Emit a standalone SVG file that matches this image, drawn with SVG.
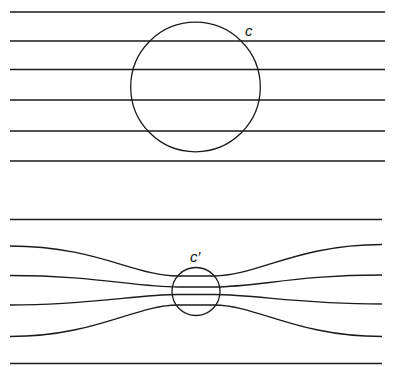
<svg xmlns="http://www.w3.org/2000/svg" width="394" height="367" viewBox="0 0 394 367">
<style>
.ln{fill:none;stroke:#1a1a1a;stroke-width:1.3}
.lbl{font-family:"Liberation Sans",Arial,sans-serif;font-style:italic;font-size:15px;fill:#111}
</style>
<rect width="394" height="367" fill="#fff"/>
<g id="connectors">
<path class="ln" d="M10,12 H385 M10,41 H385 M10,69.5 H385 M10,100 H385 M10,131 H385 M10,161 H385"/>
<path class="ln" d="M10,219.5 H382 M10,363.5 H382"/>
<path class="ln" d="M10,246 C95,246 135,276 178,276 L214,276 C257,276 297,244.5 382,244.5"/>
<path class="ln" d="M10,275.5 C95,275.5 135,287 178,287 L214,287 C257,287 297,275 382,275"/>
<path class="ln" d="M10,305 C95,305 135,294.5 178,294.5 L214,294.5 C257,294.5 297,304 382,304"/>
<path class="ln" d="M10,336.5 C95,336.5 135,305 178,305 L214,305 C257,305 297,336.5 382,336.5"/>
</g>
<g id="c">
<circle class="ln" cx="195.5" cy="87" r="64.8"/>
<text class="lbl" x="245" y="36">c</text>
</g>
<g id="c-prime">
<circle class="ln" cx="196" cy="291.5" r="24"/>
<text class="lbl" x="190" y="262">c′</text>
</g>
</svg>
